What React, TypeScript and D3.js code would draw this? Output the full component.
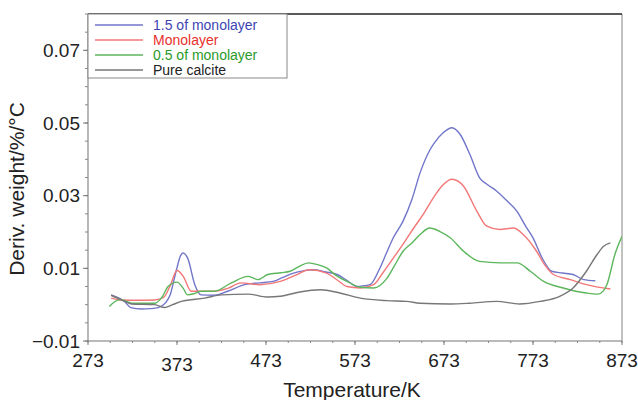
import React from "react";
import * as d3 from "d3";

// DTG curves, [temperature K, deriv. weight %/°C]
const monolayer15: [number, number][] = [
  [299, 0.0027], [306, 0.002], [314, 0.0009], [321, -0.0008], [333, -0.0012], [343, -0.0011],
  [352, -0.0008], [360, 0.0005], [365, 0.0025], [372, 0.0092], [377, 0.0135], [380, 0.0142],
  [385, 0.0128], [393, 0.0055], [400, 0.0027], [415, 0.0026], [430, 0.0037], [449, 0.0055],
  [466, 0.006], [481, 0.0064], [492, 0.0075], [504, 0.0087], [515, 0.0093], [526, 0.0096],
  [540, 0.009], [553, 0.0083], [565, 0.0065], [575, 0.005], [583, 0.0052], [590, 0.0055],
  [601, 0.0101], [608, 0.014], [616, 0.0184], [627, 0.023], [637, 0.029], [646, 0.0362],
  [657, 0.0425], [661, 0.0441], [672, 0.0473], [682, 0.0487], [691, 0.0469], [702, 0.0414],
  [713, 0.0349], [722, 0.033], [732, 0.0313], [744, 0.0285], [755, 0.0257], [765, 0.0215],
  [773, 0.0184], [784, 0.0125], [794, 0.0092], [806, 0.0087], [818, 0.0083], [830, 0.0069],
  [843, 0.0066],
];

const monolayer: [number, number][] = [
  [299, 0.0018], [310, 0.0013], [330, 0.0012], [348, 0.0013], [358, 0.002], [365, 0.005],
  [373, 0.0094], [380, 0.0078], [389, 0.0037], [400, 0.0037], [415, 0.0037], [430, 0.0045],
  [445, 0.006], [466, 0.0055], [489, 0.0064], [505, 0.008], [522, 0.0096], [541, 0.0087],
  [553, 0.0068], [564, 0.005], [579, 0.0046], [594, 0.0055], [605, 0.009], [616, 0.0128],
  [628, 0.017], [639, 0.0211], [650, 0.025], [661, 0.0294], [672, 0.033], [682, 0.0345],
  [695, 0.0326], [710, 0.0257], [721, 0.0216], [736, 0.0207], [751, 0.0211], [762, 0.0193],
  [777, 0.0147], [786, 0.011], [796, 0.0083], [815, 0.0069], [833, 0.0055], [860, 0.0043],
];

const monolayer05: [number, number][] = [
  [297, -0.0005], [303, 0.0008], [309, 0.0014], [315, 0.001], [322, 0.0004], [348, 0.0004],
  [356, 0.002], [363, 0.005], [373, 0.0062], [380, 0.0045], [385, 0.0027], [392, 0.003],
  [400, 0.0037], [415, 0.0037], [434, 0.006], [453, 0.0078], [464, 0.0069], [475, 0.0083],
  [490, 0.0088], [500, 0.0092], [510, 0.0105], [521, 0.0115], [531, 0.011], [541, 0.0101],
  [552, 0.008], [564, 0.0064], [579, 0.0048], [594, 0.0046], [609, 0.0073], [618, 0.011],
  [627, 0.0147], [637, 0.017], [646, 0.0193], [657, 0.0211], [668, 0.0202], [680, 0.0184],
  [695, 0.0147], [713, 0.0119], [736, 0.0115], [755, 0.0115], [770, 0.0092], [785, 0.0064],
  [807, 0.0046], [833, 0.0032], [846, 0.0029], [852, 0.0038], [856, 0.0055], [865, 0.0138],
  [873, 0.0188],
];

const pureCalcite: [number, number][] = [
  [299, 0.0026], [310, 0.0014], [322, 0.0002], [348, 0.0], [359, -0.0008], [368, 0.0],
  [378, 0.0009], [404, 0.0018], [423, 0.0027], [453, 0.0029], [475, 0.0021], [489, 0.0023],
  [511, 0.0035], [534, 0.0041], [556, 0.0032], [579, 0.0018], [609, 0.0011], [631, 0.0009],
  [646, 0.0004], [680, 0.0002], [702, 0.0004], [732, 0.0009], [758, 0.0002], [781, 0.0009],
  [803, 0.0023], [818, 0.0046], [833, 0.0092], [845, 0.0138], [852, 0.016], [860, 0.017],
];

const xTicks = [273, 373, 473, 573, 673, 773, 873];
const yTicks = [-0.01, 0.01, 0.03, 0.05, 0.07];

const series = [
  { name: "1.5 of monolayer", data: monolayer15, line: "#7176c9", text: "#3d45b3" },
  { name: "Monolayer", data: monolayer, line: "#f27878", text: "#e8302c" },
  { name: "0.5 of monolayer", data: monolayer05, line: "#5cb65c", text: "#2a9a2a" },
  { name: "Pure calcite", data: pureCalcite, line: "#777777", text: "#222222" },
];

const W = 638;
const H = 400;
const margin = { top: 14, right: 16, bottom: 59, left: 88 };
const font = "'Liberation Sans', Arial, Helvetica, sans-serif";

export default function App() {
  const x = d3.scaleLinear().domain([273, 873]).range([margin.left, W - margin.right]);
  const y = d3.scaleLinear().domain([-0.01, 0.08]).range([H - margin.bottom, margin.top]);

  const line = d3
    .line<[number, number]>()
    .x((d) => x(d[0]))
    .y((d) => y(d[1]))
    .curve(d3.curveMonotoneX);

  const xMinor = d3.range(273, 874, 25);
  const yMinor = d3.range(-0.01, 0.0801, 0.005);

  const x0 = x(273);
  const x1 = x(873);
  const yb = y(-0.01);
  const yt = y(0.08);

  return (
    <div style={{ position: "absolute", left: 0, top: 0 }}>
      <svg width={W} height={H} style={{ display: "block", background: "#fff" }}>
        <defs>
          <clipPath id="plot">
            <rect x={x0} y={yt} width={x1 - x0} height={yb - yt} />
          </clipPath>
        </defs>

        {/* frame */}
        <line x1={x1} x2={x1} y1={yt} y2={yb} stroke="#999" strokeWidth={1.2} />
        <line x1={x0} x2={x1} y1={yt} y2={yt} stroke="#222" strokeWidth={1.5} />
        <line x1={x0} x2={x0} y1={yt} y2={yb} stroke="#888" strokeWidth={1.2} />
        <line x1={x0} x2={x1} y1={yb} y2={yb} stroke="#777" strokeWidth={1.2} />

        {/* y ticks */}
        {yMinor.map((v, i) => (
          <line key={"ym" + i} x1={x0 - 3} x2={x0} y1={y(v)} y2={y(v)} stroke="#888" />
        ))}
        {yTicks.map((v) => (
          <g key={"y" + v}>
            <line x1={x0 - 5} x2={x0} y1={y(v)} y2={y(v)} stroke="#777" />
            <text
              x={x0 - 8}
              y={y(v)}
              dy="0.35em"
              textAnchor="end"
              fontFamily={font}
              fontSize={19}
              fill="#222"
            >
              {v < 0 ? "\u2212" + Math.abs(v).toFixed(2) : v.toFixed(2)}
            </text>
          </g>
        ))}

        {/* x ticks */}
        {xMinor.map((v) => (
          <line key={"xm" + v} x1={x(v)} x2={x(v)} y1={yb} y2={yb + 2} stroke="#888" />
        ))}
        {xTicks.map((v) => (
          <g key={"x" + v}>
            <line x1={x(v)} x2={x(v)} y1={yb} y2={yb + 4} stroke="#777" />
            <text
              x={x(v)}
              y={yb + (v === 373 ? 30 : 26)}
              textAnchor="middle"
              fontFamily={font}
              fontSize={19}
              fill="#222"
            >
              {v}
            </text>
          </g>
        ))}

        {/* curves */}
        <g clipPath="url(#plot)">
          {series.map((s) => (
            <path key={s.name} d={line(s.data) || ""} fill="none" stroke={s.line} strokeWidth={1.4} />
          ))}
        </g>

        {/* legend */}
        <rect x={x0} y={yt} width={199} height={64} fill="#fff" stroke="#888" strokeWidth={1} />
        {series.map((s, i) => (
          <g key={"lg" + s.name} transform={`translate(${x0},${yt + 11 + i * 15})`}>
            <line x1={7} x2={55} y1={0} y2={0} stroke={s.line} strokeWidth={1.5} />
            <text x={65} y={0} dy="0.35em" fontFamily={font} fontSize={14} fill={s.text}>
              {s.name}
            </text>
          </g>
        ))}

        {/* axis titles */}
        <text x={352} y={397} textAnchor="middle" fontFamily={font} fontSize={21} fill="#222">
          Temperature/K
        </text>
        <text
          transform={`translate(24,189) rotate(-90)`}
          textAnchor="middle"
          fontFamily={font}
          fontSize={21}
          fill="#222"
        >
          Deriv. weight/%/°C
        </text>
      </svg>
    </div>
  );
}
